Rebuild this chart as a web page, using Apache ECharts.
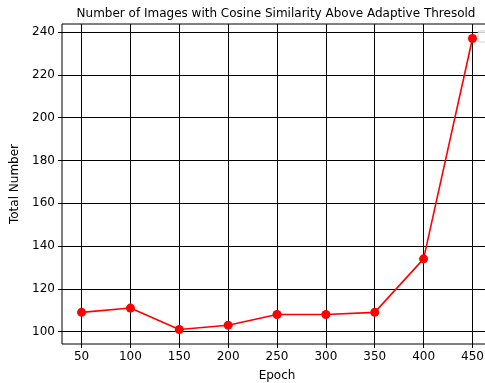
<!DOCTYPE html>
<html>
<head>
<meta charset="utf-8">
<script src="https://cdn.jsdelivr.net/npm/echarts@6/dist/echarts.min.js"></script>
<style>
  html, body { margin: 0; padding: 0; background: #fff; }
  #chart { width: 485px; height: 383px; }
</style>
</head>
<body>
<div id="chart"></div>
<script>
const epochs = [50, 100, 150, 200, 250, 300, 350, 400, 450];
const totals = [109, 111, 101, 103, 108, 108, 109, 134, 237];
const xTicks = [50, 100, 150, 200, 250, 300, 350, 400, 450];
const yTicks = [100, 120, 140, 160, 180, 200, 220, 240];

const font = "DejaVu Sans";
const chart = echarts.init(document.getElementById("chart"));

chart.setOption({
  animation: false,
  backgroundColor: "#fff",
  title: {
    text: "Number of Images with Cosine Similarity Above Adaptive Thresold",
    left: 271,
    textAlign: "center",
    top: 3,
    textStyle: { fontFamily: font, fontSize: 12, fontWeight: "normal", color: "#000" }
  },
  grid: {
    left: 62,
    top: 24,
    width: 430,
    bottom: 39,
    outerBoundsMode: "none",
    containLabel: false,
    show: true,
    borderColor: "#000",
    borderWidth: 1
  },
  xAxis: {
    type: "value",
    min: 30,
    max: 470,
    name: "Epoch",
    nameLocation: "middle",
    nameGap: 26,
    nameTextStyle: { fontFamily: font, fontSize: 12, color: "#000" },
    axisLine: { show: false },
    axisTick: { show: true, length: 4, customValues: xTicks, lineStyle: { color: "#000" } },
    axisLabel: { customValues: xTicks, fontFamily: font, fontSize: 12, color: "#000", margin: 7 },
    splitLine: { show: true, lineStyle: { color: "#000", width: 1 } }
  },
  yAxis: {
    type: "value",
    min: 94.2,
    max: 243.8,
    name: "Total Number",
    nameLocation: "middle",
    nameGap: 38,
    nameTextStyle: { fontFamily: font, fontSize: 12, color: "#000" },
    axisLine: { show: false },
    axisTick: { show: true, length: 4, customValues: yTicks, lineStyle: { color: "#000" } },
    axisLabel: { customValues: yTicks, fontFamily: font, fontSize: 12, color: "#000", margin: 7 },
    splitLine: { show: true, lineStyle: { color: "#000", width: 1 } }
  },
  graphic: [
    {
      type: "rect",
      shape: { x: 478, y: 31, width: 20, height: 11, r: 2 },
      style: { fill: "rgba(255,255,255,0.8)", stroke: "#d0d0d0", lineWidth: 1 },
      z: 100
    }
  ],
  series: [
    {
      type: "line",
      data: epochs.map((e, i) => [e, totals[i]]),
      symbol: "circle",
      symbolSize: 9,
      itemStyle: { color: "#ff0000" },
      lineStyle: { color: "#ff0000", width: 1.6 },
      z: 10
    }
  ]
});
</script>
</body>
</html>
